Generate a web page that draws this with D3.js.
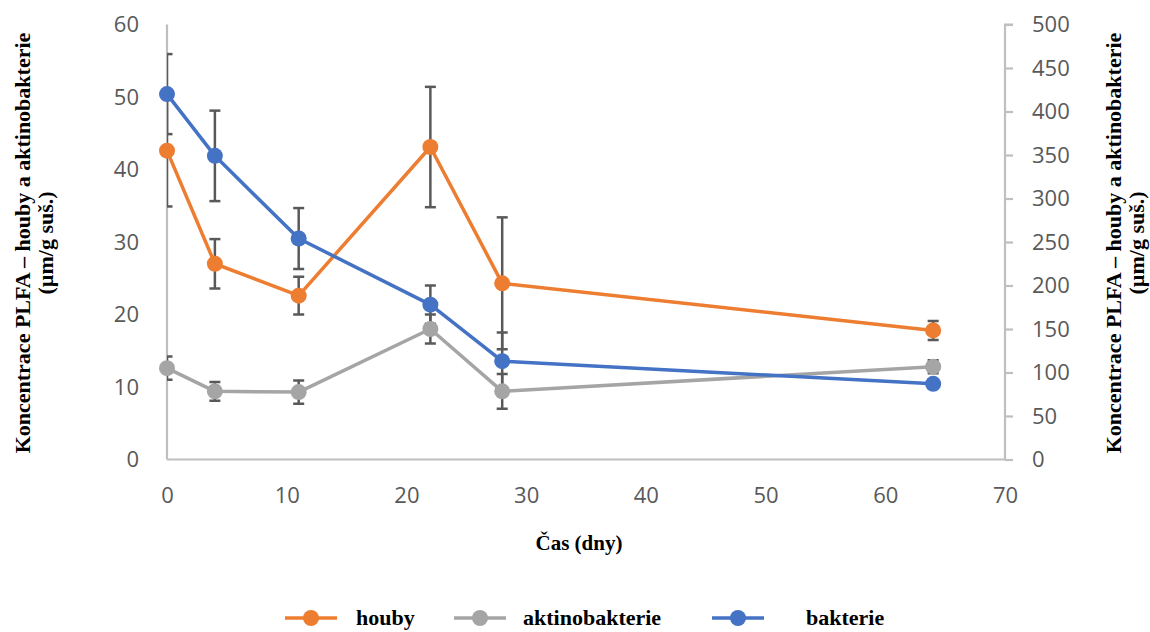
<!DOCTYPE html>
<html><head><meta charset="utf-8">
<script src="https://cdn.jsdelivr.net/npm/d3@7"></script>
<style>body{margin:0;background:#fff}svg{display:block}</style>
</head><body>
<svg id="c" width="1150" height="632"></svg>
<script>
const days = [0, 4, 11, 22, 28, 64];
const houby = [42.6, 27.0, 22.6, 43.1, 24.3, 17.8];
const houbyErr = [7.7, 3.4, 2.6, 8.3, 9.1, 1.3];
const aktino = [12.6, 9.4, 9.3, 18.0, 9.4, 12.8];
const aktinoErr = [1.6, 1.3, 1.6, 2.0, 2.4, 0.9];
const bakterie = [420, 349, 254, 178, 113, 87];
const bakterieErr = [46, 52, 35, 22, 33, 3];
const xTicks = [0, 10, 20, 30, 40, 50, 60, 70];
const yLeftTicks = [0, 10, 20, 30, 40, 50, 60];
const yRightTicks = [0, 50, 100, 150, 200, 250, 300, 350, 400, 450, 500];
const seriesNames = ["houby", "aktinobakterie", "bakterie"];
const xTitle = "Čas (dny)";
const yTitle1 = "Koncentrace PLFA – houby a aktinobakterie";
const yTitle2 = "(µm/g suš.)";

const svg = d3.select("#c");
const L = 167, R = 1005, T = 24.5, B = 459.5;
const x = d3.scaleLinear().domain([0, 70]).range([L, R]);
const yL = d3.scaleLinear().domain([0, 60]).range([B, T]);
const yR = d3.scaleLinear().domain([0, 500]).range([B, T]);

const colors = ["#ED7D31", "#A5A5A5", "#4472C4"];
const series = [
  {vals: houby, err: houbyErr, y: yL, c: colors[0]},
  {vals: aktino, err: aktinoErr, y: yL, c: colors[1]},
  {vals: bakterie, err: bakterieErr, y: yR, c: colors[2]}
];

const tickFont = "'Open Sans', sans-serif";
const gx = svg.append("g").attr("transform", `translate(0,${B})`)
  .call(d3.axisBottom(x).tickValues(xTicks).tickSize(0).tickPadding(28).tickFormat(d3.format("d")));
const gl = svg.append("g").attr("transform", `translate(${L},0)`)
  .call(d3.axisLeft(yL).tickValues(yLeftTicks).tickSize(0).tickPadding(28).tickFormat(d3.format("d")));
const gr = svg.append("g").attr("transform", `translate(${R},0)`)
  .call(d3.axisRight(yR).tickValues(yRightTicks).tickSize(8).tickPadding(19).tickFormat(d3.format("d")));
[gx, gl, gr].forEach(g => {
  g.select(".domain").attr("stroke", "#BFBFBF").attr("stroke-width", 2.2);
  g.selectAll(".tick line").attr("stroke", "#BFBFBF").attr("stroke-width", 2.2);
  g.selectAll(".tick text").attr("fill", "#595959").style("font-family", tickFont).style("font-size", "22px");
});
gx.select(".domain").attr("d", `M${L},0H${R}`);
gl.select(".domain").attr("d", `M0,${T}V${B}`);
gr.select(".domain").attr("d", `M8,${T}H0V${B}`);

svg.append("clipPath").attr("id", "pc").append("rect")
  .attr("x", L).attr("y", 0).attr("width", R - L).attr("height", B + 2);

const eg = svg.append("g").attr("clip-path", "url(#pc)");
series.forEach(s => {
  days.forEach((d, i) => {
    const cx = x(d), y1 = s.y(s.vals[i] + s.err[i]), y2 = s.y(s.vals[i] - s.err[i]);
    eg.append("line").attr("x1", cx).attr("x2", cx).attr("y1", y1).attr("y2", y2)
      .attr("stroke", "#595959").attr("stroke-width", 2.5);
    [y1, y2].forEach(yy => eg.append("line").attr("x1", cx - 5.5).attr("x2", cx + 5.5)
      .attr("y1", yy).attr("y2", yy).attr("stroke", "#595959").attr("stroke-width", 2.5));
  });
});

series.forEach(s => {
  const line = d3.line().x((d, i) => x(days[i])).y(d => s.y(d));
  svg.append("path").datum(s.vals).attr("d", line).attr("fill", "none")
    .attr("stroke", s.c).attr("stroke-width", 3.5).attr("stroke-linejoin", "round");
  svg.selectAll(null).data(s.vals).enter().append("circle")
    .attr("cx", (d, i) => x(days[i])).attr("cy", d => s.y(d)).attr("r", 8).attr("fill", s.c);
});

const serif = "'Liberation Serif', 'Times New Roman', serif";
svg.append("text").attr("x", 579).attr("y", 550).attr("text-anchor", "middle")
  .style("font-family", serif).style("font-weight", "bold").style("font-size", "21px").attr("fill", "#000").text(xTitle);

function yTitle(cx1, cx2) {
  const cy = 243;
  [[cx1, yTitle1], [cx2, yTitle2]].forEach(([cx, t]) => {
    svg.append("text").attr("transform", `translate(${cx},${cy}) rotate(-90)`)
      .attr("text-anchor", "middle").attr("dy", "0.35em")
      .style("font-family", serif).style("font-weight", "bold").style("font-size", "22px").text(t);
  });
}
yTitle(22, 45);
yTitle(1113, 1136);

const legLine = [285, 454, 712], legText = [356, 523, 806], legY = 618;
seriesNames.forEach((n, i) => {
  svg.append("line").attr("x1", legLine[i]).attr("x2", legLine[i] + 52).attr("y1", legY).attr("y2", legY)
    .attr("stroke", colors[i]).attr("stroke-width", 3.5);
  svg.append("circle").attr("cx", legLine[i] + 26).attr("cy", legY).attr("r", 8).attr("fill", colors[i]);
  svg.append("text").attr("x", legText[i]).attr("y", legY).attr("dy", "0.32em")
    .style("font-family", serif).style("font-weight", "bold").style("font-size", "22px").text(n);
});
</script>
</body></html>
